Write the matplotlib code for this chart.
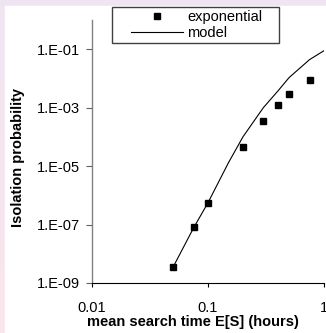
import matplotlib
matplotlib.use('Agg')
import matplotlib.pyplot as plt
import numpy as np
from matplotlib.lines import Line2D
from matplotlib.legend_handler import HandlerLine2D
from matplotlib.patches import Rectangle

# Measured points (exponential search time) and model curve
search_time = [0.05, 0.075, 0.1, 0.2, 0.3, 0.4, 0.5, 0.75]
exp_prob = [3.5e-9, 8.0e-8, 5.4e-7, 4.5e-5, 3.6e-4, 1.2e-3, 2.9e-3, 9.0e-3]

model_time = [0.05, 0.075, 0.1, 0.15, 0.2, 0.3, 0.4, 0.5, 0.75, 1.0]
model_prob = [3.5e-9, 7.6e-8, 5.6e-7, 1.3e-5, 1.0e-4, 1.0e-3, 3.7e-3, 1.07e-2, 4.4e-2, 8.9e-2]

x_ticks = [0.01, 0.1, 1]
x_tick_labels = ['0.01', '0.1', '1']
y_ticks = [1e-9, 1e-7, 1e-5, 1e-3, 1e-1]
y_tick_labels = ['1.E-09', '1.E-07', '1.E-05', '1.E-03', '1.E-01']

W, H = 326, 333


def draw_background(fig):
    """Lavender frame on the top/left edge, white page behind the chart."""
    bg = fig.add_axes([0, 0, 1, 1], zorder=-10)
    grad = np.linspace(0, 1, 100).reshape(-1, 1)
    top = np.array([0.94, 0.90, 0.95])
    bottom = np.array([0.98, 0.90, 0.93])
    img = top + grad[..., None] * (bottom - top)
    bg.imshow(img, aspect='auto', extent=[0, 1, 0, 1], origin='upper')
    bg.add_patch(Rectangle((5 / W, 0), 1, 1 - 6 / H, color='white'))
    bg.set_xlim(0, 1)
    bg.set_ylim(0, 1)
    bg.axis('off')


def main():
    plt.rcParams['font.family'] = ['Liberation Sans', 'DejaVu Sans']
    fig = plt.figure(figsize=(W / 100, H / 100), dpi=100)
    draw_background(fig)

    ax = fig.add_axes([92 / W, 50 / H, 232 / W, 263 / H])
    ax.set_facecolor('none')
    ax.plot(model_time, model_prob, color='black', linewidth=0.8, label='model', zorder=2)
    ax.plot(search_time, exp_prob, linestyle='none', marker='s', markersize=5,
            color='black', label='exponential', zorder=3)

    ax.set_xscale('log')
    ax.set_yscale('log')
    ax.set_xlim(0.01, 1)
    ax.set_ylim(1e-9, 1)
    ax.set_xticks(x_ticks)
    ax.set_xticklabels(x_tick_labels)
    ax.set_yticks(y_ticks)
    ax.set_yticklabels(y_tick_labels)
    ax.minorticks_off()
    ax.tick_params(axis='x', direction='out', length=3, width=0.8, pad=10, labelsize=10.5)
    ax.tick_params(axis='y', direction='out', length=4, width=0.8, pad=5, labelsize=10.5,
                   color='#606060')

    for side in ['top', 'right']:
        ax.spines[side].set_visible(False)
    ax.spines['left'].set_color('#808080')
    ax.spines['left'].set_linewidth(1.0)
    ax.spines['bottom'].set_color('black')
    ax.spines['bottom'].set_linewidth(0.8)

    fig.text(192.5 / W, 1 - 322 / H, 'mean search time E[S] (hours)',
             ha='center', va='center', fontsize=10.5, fontweight='bold')
    fig.text(18 / W, 1 - 157.5 / H, 'Isolation probability', rotation=90,
             ha='center', va='center', fontsize=10.5, fontweight='bold')

    handles, labels = ax.get_legend_handles_labels()
    leg = ax.legend(handles[::-1], labels[::-1], loc='upper left',
                    bbox_to_anchor=(112 / W, 1 - 44 / H, 167 / W, 37 / H),
                    bbox_transform=fig.transFigure, mode='expand', borderaxespad=0,
                    fontsize=10.5, handlelength=4.65, handletextpad=0.3,
                    borderpad=0.2, labelspacing=0.15, fancybox=False,
                    framealpha=1, edgecolor='#404040',
                    handler_map={Line2D: HandlerLine2D(xpad=1.1)})
    leg.get_frame().set_linewidth(1.0)

    fig.savefig('out.png', dpi=100)


if __name__ == '__main__':
    main()
